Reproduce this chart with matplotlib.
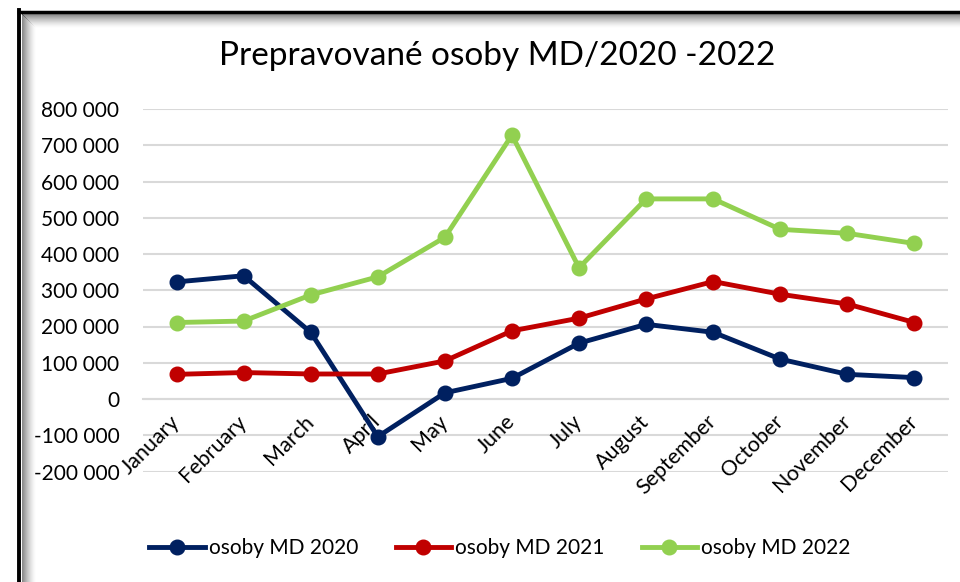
import matplotlib.pyplot as plt
from matplotlib.lines import Line2D
from matplotlib.ticker import FuncFormatter

plt.rcParams['font.family'] = ['Lato', 'DejaVu Sans']

months = ['January', 'February', 'March', 'April', 'May', 'June', 'July',
          'August', 'September', 'October', 'November', 'December']
osoby_2020 = [323000, 340000, 184000, -104000, 17000, 57000, 154000,
              206000, 184000, 110000, 68000, 59000]
osoby_2021 = [68000, 73000, 69000, 69000, 105000, 188000, 223000,
              276000, 324000, 289000, 262000, 211000]
osoby_2022 = [211000, 215000, 287000, 337000, 446000, 728000, 362000,
              552000, 552000, 468000, 457000, 429000]
series_names = ['osoby MD 2020', 'osoby MD 2021', 'osoby MD 2022']
colors = ['#002060', '#C00000', '#92D050']

W, H = 960, 582
fig = plt.figure(figsize=(W / 100, H / 100), dpi=100)

# frame with soft inner shadow (left and top edges only are visible)
for i in range(14):
    a = 0.45 * (1 - i / 14) ** 1.5
    fig.add_artist(Line2D([(21.5 + i) / W] * 2, [0, 1 - (13.5 + i) / H],
                          transform=fig.transFigure, color='black', alpha=a, lw=0.75))
    fig.add_artist(Line2D([(21.5 + i) / W, 1], [1 - (13.5 + i) / H] * 2,
                          transform=fig.transFigure, color='black', alpha=a, lw=0.75))
fig.add_artist(Line2D([19 / W] * 2, [0, 1 - 10 / H], transform=fig.transFigure,
                      color='black', lw=2.8, solid_capstyle='projecting'))
fig.add_artist(Line2D([19 / W, 1], [1 - 11.5 / H] * 2, transform=fig.transFigure,
                      color='black', lw=2.5, solid_capstyle='projecting'))

ax = fig.add_axes([143 / W, 1 - 471.5 / H, (948 - 143) / W, (471.5 - 109) / H])
x = list(range(len(months)))
for vals, name, c in zip([osoby_2020, osoby_2021, osoby_2022], series_names, colors):
    ax.plot(x, vals, color=c, lw=3.5, marker='o', markersize=10.5, label=name,
            zorder=3)

ax.set_xlim(-0.5, 11.5)
ax.set_ylim(-200000, 800000)
ax.set_yticks(range(-200000, 800001, 100000))
ax.yaxis.set_major_formatter(FuncFormatter(lambda v, p: f"{int(v):,}".replace(',', ' ')))
ax.grid(axis='y', color='#d9d9d9', lw=1.5)
ax.set_axisbelow(True)
ax.xaxis.set_zorder(1)  # month labels above the y gridlines
for s in ['top', 'right', 'left']:
    ax.spines[s].set_visible(False)
ax.spines['bottom'].set_position(('data', 0))
ax.spines['bottom'].set_color('#d9d9d9')
ax.spines['bottom'].set_linewidth(1.5)

ax.set_xticks(x)
ax.set_xticklabels(months, rotation=45, ha='right', va='center', rotation_mode='anchor')
ax.tick_params(axis='x', length=0, pad=14, labelsize=15.5)
ax.tick_params(axis='y', length=0, pad=17, labelsize=15)

fig.text(497.5 / W, 1 - 65 / H, 'Prepravované osoby MD/2020 -2022', ha='center',
         va='baseline', fontsize=24)

fig.legend(loc='center', bbox_to_anchor=(500 / W, 1 - 548 / H), ncol=3, frameon=False,
           fontsize=15, handlelength=2.65, handletextpad=0.2, columnspacing=1.8)

fig.savefig('out.png', dpi=100)
